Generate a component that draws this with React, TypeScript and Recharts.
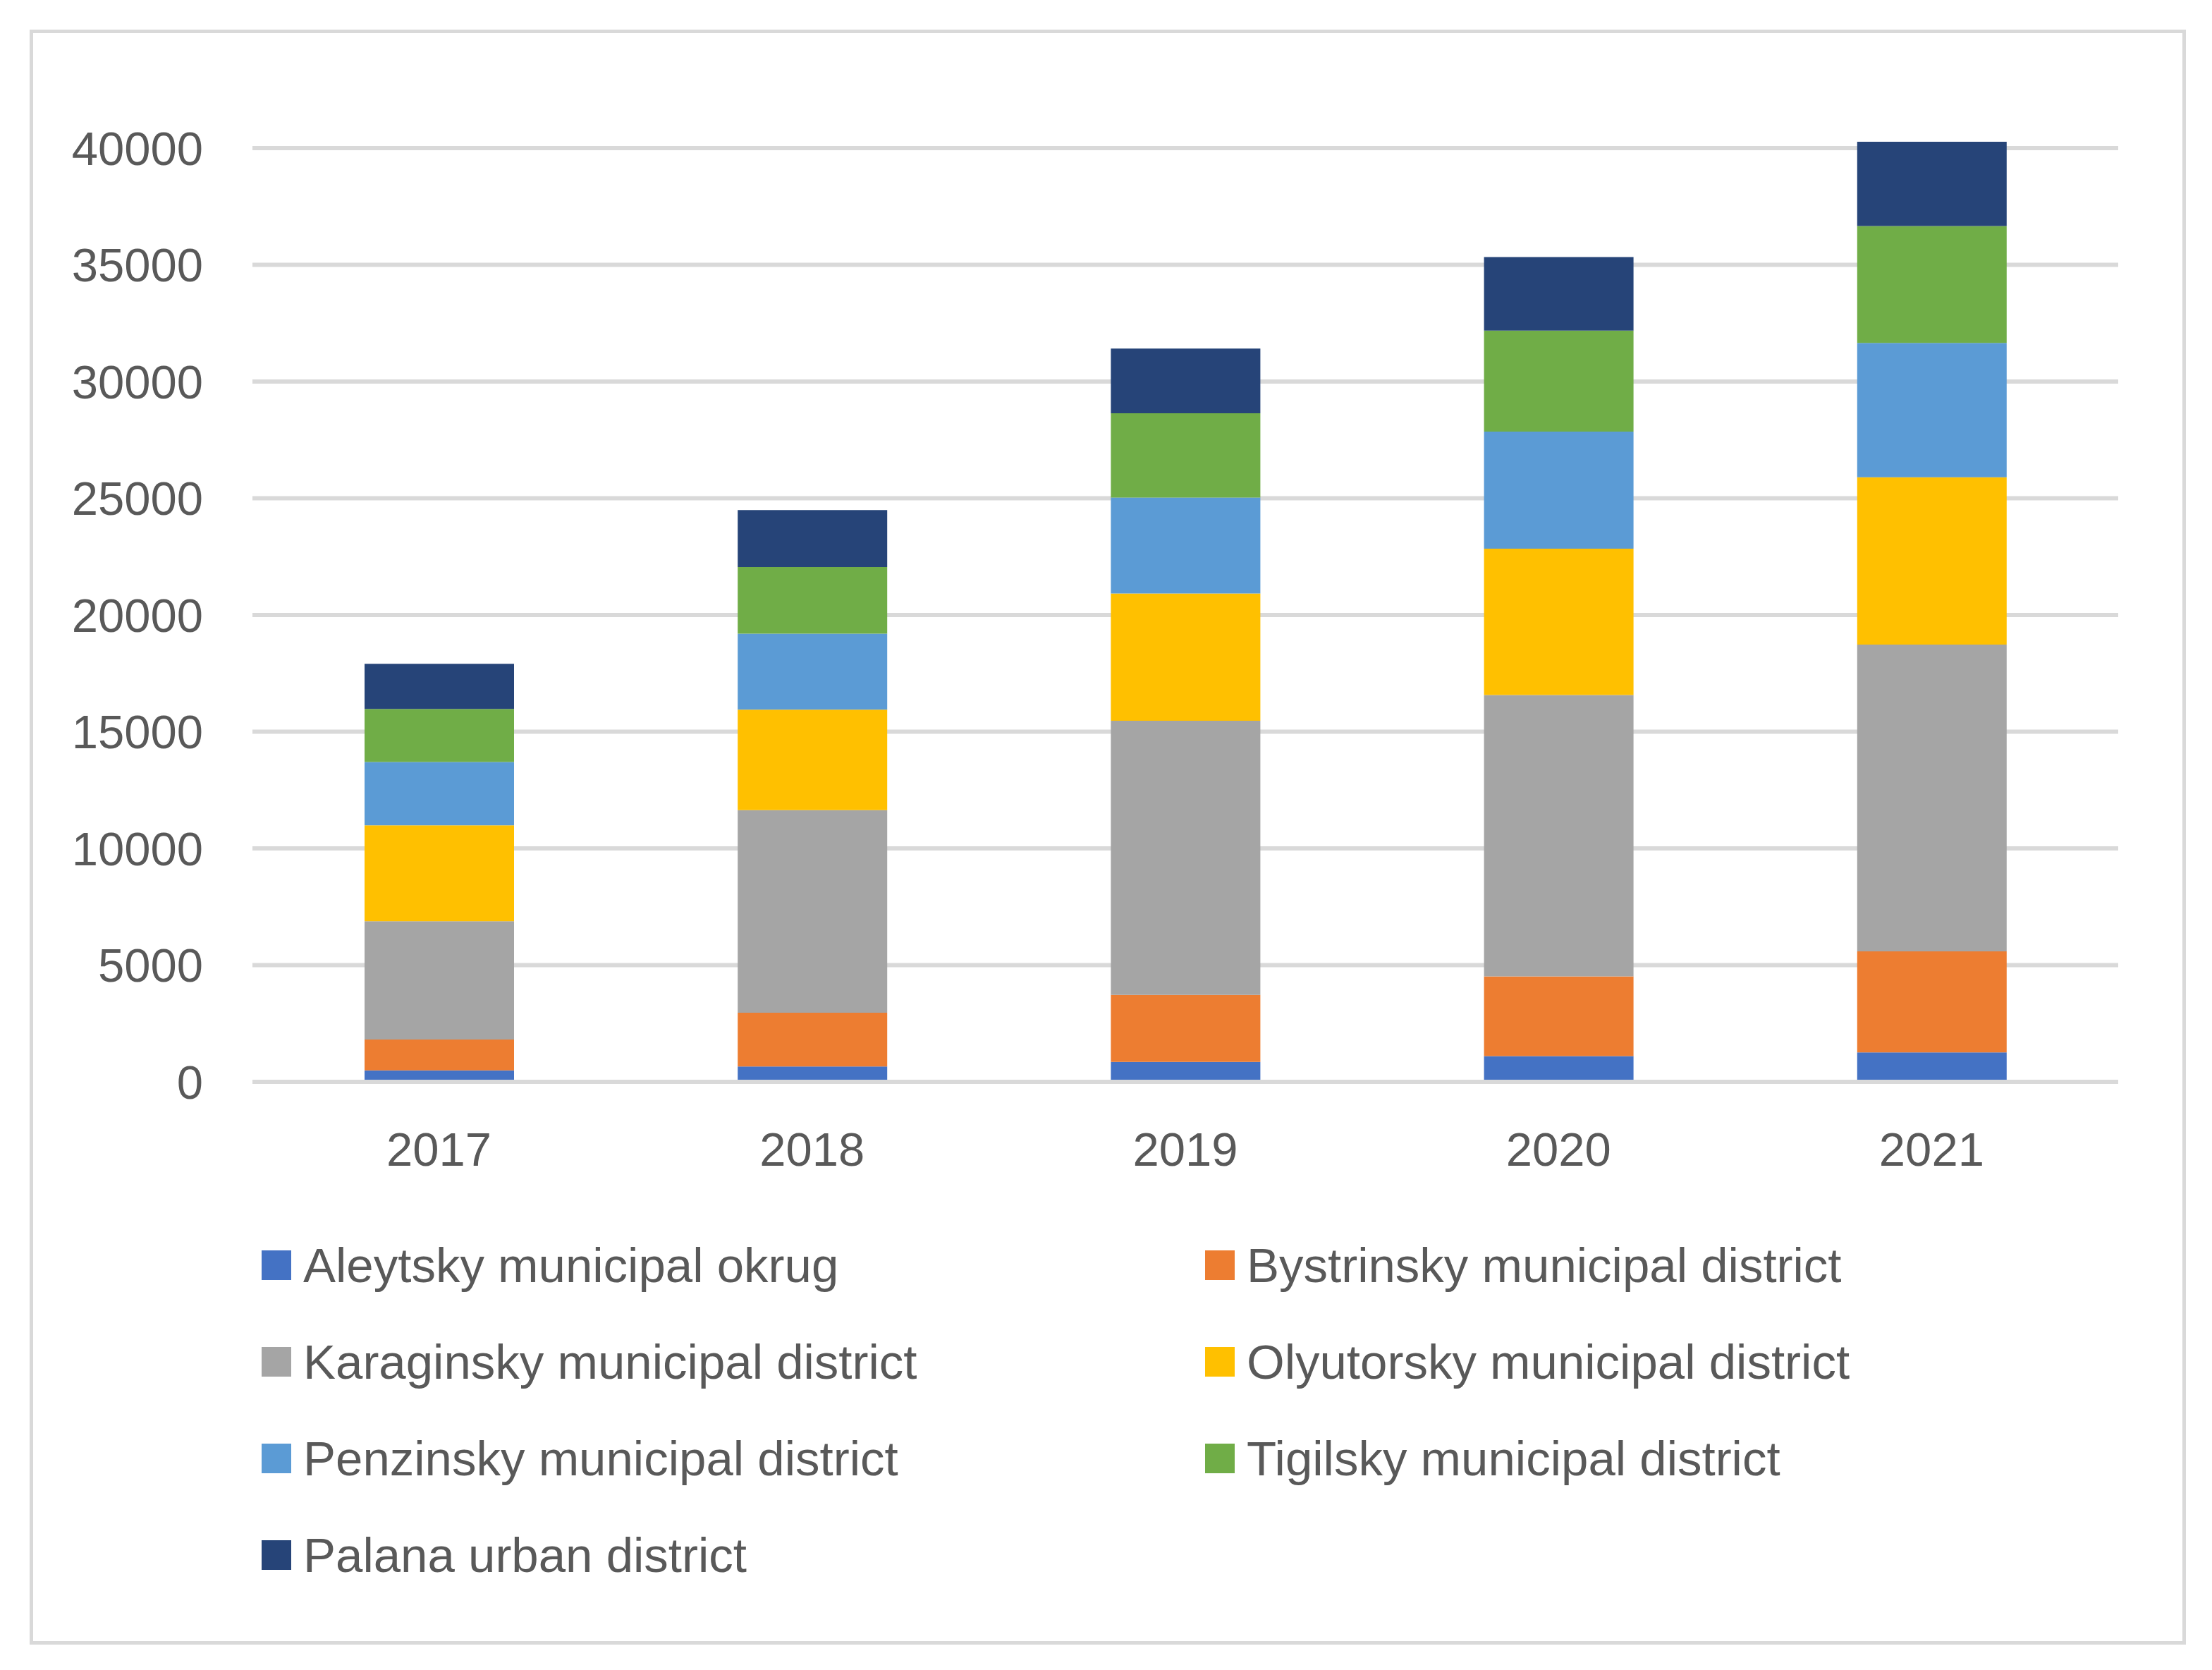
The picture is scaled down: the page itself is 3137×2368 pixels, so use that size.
import React from "react";
import { BarChart, Bar, CartesianGrid, XAxis, YAxis } from "recharts";

const years = ["2017", "2018", "2019", "2020", "2021"];

const aleytsky = [490, 660, 850, 1100, 1260];
const bystrinsky = [1320, 2300, 2870, 3420, 4330];
const karaginsky = [5070, 8680, 11750, 12050, 13140];
const olyutorsky = [4110, 4300, 5450, 6270, 7170];
const penzinsky = [2710, 3260, 4110, 5010, 5750];
const tigilsky = [2270, 2850, 3610, 4330, 5010];
const palana = [1940, 2440, 2770, 3150, 3610];

const yTicks = [0, 5000, 10000, 15000, 20000, 25000, 30000, 35000, 40000];

const series = [
  { key: "aleytsky", name: "Aleytsky municipal okrug", values: aleytsky, color: "#4472C4" },
  { key: "bystrinsky", name: "Bystrinsky municipal district", values: bystrinsky, color: "#ED7D31" },
  { key: "karaginsky", name: "Karaginsky municipal district", values: karaginsky, color: "#A5A5A5" },
  { key: "olyutorsky", name: "Olyutorsky municipal district", values: olyutorsky, color: "#FFC000" },
  { key: "penzinsky", name: "Penzinsky municipal district", values: penzinsky, color: "#5B9BD5" },
  { key: "tigilsky", name: "Tigilsky municipal district", values: tigilsky, color: "#70AD47" },
  { key: "palana", name: "Palana urban district", values: palana, color: "#264478" },
];

const data = years.map((year, i) => {
  const row: Record<string, string | number> = { year };
  series.forEach((s) => {
    row[s.key] = s.values[i];
  });
  return row;
});

const FONT = "'Liberation Sans', Arial, sans-serif";
const TEXT = "#595959";
const GRID = "#D9D9D9";
const TOP = 200;

// skip the grid line recharts draws on the top edge of the plot
const gridLine = (props: any) => {
  const top = typeof props.y === "number" ? props.y : TOP;
  if (Math.abs(props.y1 - top) < 1) return <g key={props.key} />;
  return (
    <line
      key={props.key}
      x1={props.x1}
      y1={props.y1}
      x2={props.x2}
      y2={props.y2}
      stroke={GRID}
      strokeWidth={6}
    />
  );
};

const App = () => {
  return (
    <div
      style={{
        position: "absolute",
        left: 0,
        top: 0,
        width: 3137,
        height: 2368,
        background: "#fff",
        fontFamily: FONT,
      }}
    >
      <div
        style={{
          position: "absolute",
          left: 42,
          top: 42,
          width: 3048,
          height: 2280,
          border: `5px solid ${GRID}`,
        }}
      />
      <div style={{ position: "absolute", left: 0, top: 0 }}>
        <BarChart
          width={3137}
          height={1700}
          data={data}
          margin={{ top: TOP, right: 133, left: 0, bottom: 66 }}
          barSize={212}
        >
          <CartesianGrid vertical={false} horizontal={gridLine} />
          <XAxis
            dataKey="year"
            height={100}
            axisLine={{ stroke: GRID, strokeWidth: 6 }}
            tickLine={false}
            tickSize={0}
            tickMargin={71}
            tick={{ fill: TEXT, fontSize: 67, fontFamily: FONT }}
          />
          <YAxis
            width={358}
            domain={[0, 40300]}
            allowDataOverflow
            ticks={yTicks}
            interval={0}
            axisLine={false}
            tickLine={false}
            tickSize={0}
            tickMargin={70}
            tick={{ fill: TEXT, fontSize: 67, fontFamily: FONT }}
          />
          {series.map((s) => (
            <Bar
              key={s.key}
              dataKey={s.key}
              name={s.name}
              stackId="a"
              fill={s.color}
              isAnimationActive={false}
            />
          ))}
        </BarChart>
      </div>
      {series.map((s, i) => {
        const col = i % 2;
        const row = Math.floor(i / 2);
        return (
          <div
            key={s.key}
            style={{
              position: "absolute",
              left: col === 0 ? 371 : 1709,
              top: 1773 + row * 137,
              height: 42,
              display: "flex",
              alignItems: "center",
              whiteSpace: "nowrap",
            }}
          >
            <div style={{ width: 42, height: 42, background: s.color }} />
            <span
              style={{
                marginLeft: 17,
                fontSize: 69,
                lineHeight: 1,
                color: TEXT,
                fontFamily: FONT,
              }}
            >
              {s.name}
            </span>
          </div>
        );
      })}
    </div>
  );
};

export default App;
